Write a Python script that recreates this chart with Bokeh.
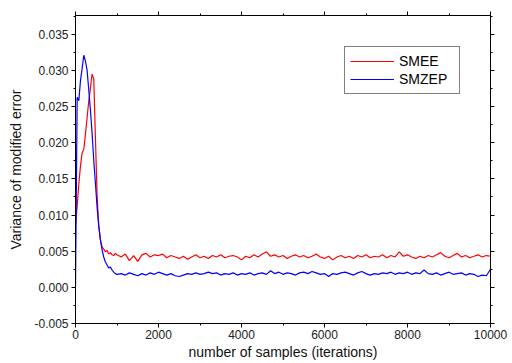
from bokeh.plotting import figure
from bokeh.models import (Range1d, LinearAxis, SingleIntervalTicker, NumeralTickFormatter,
                          Legend, LegendItem, ColumnDataSource, CustomJSTickFormatter)
from bokeh.embed import file_html
from bokeh.resources import INLINE

samples_early = [0, 40, 80, 120, 160, 200, 240, 280, 320, 360, 400, 440, 480, 520,
                 560, 600, 640, 680, 720, 760, 800, 840, 880, 920, 960, 1000]
smee_early = [0.0086, 0.0112, 0.0143, 0.0168, 0.0186, 0.0191, 0.0212, 0.0235, 0.0258,
              0.0276, 0.0295, 0.0288, 0.0207, 0.0128, 0.0085, 0.0066, 0.0056, 0.0053,
              0.0049, 0.0051, 0.0046, 0.0048, 0.0045, 0.0044, 0.0047, 0.0045]
smzep_early = [0.0000, 0.0263, 0.0258, 0.0286, 0.0303, 0.0321, 0.0313, 0.0300, 0.0273,
               0.0245, 0.0213, 0.0176, 0.0144, 0.0111, 0.0085, 0.0066, 0.0052, 0.0042,
               0.0035, 0.0031, 0.0027, 0.0028, 0.0024, 0.0021, 0.0019, 0.0018]

samples_late = list(range(1100, 10001, 100))
smee_late = [0.0042, 0.0046, 0.0037, 0.0044, 0.0036, 0.0045, 0.0047, 0.0042, 0.0045, 0.0044,
             0.0046, 0.0041, 0.0044, 0.0042, 0.0040, 0.0043, 0.0039, 0.0042, 0.0045, 0.0041,
             0.0043, 0.0040, 0.0044, 0.0042, 0.0045, 0.0041, 0.0043, 0.0044, 0.0042, 0.0038,
             0.0043, 0.0041, 0.0045, 0.0042, 0.0046, 0.0049, 0.0043, 0.0045, 0.0042, 0.0044,
             0.0040, 0.0043, 0.0045, 0.0042, 0.0044, 0.0041, 0.0043, 0.0046, 0.0042, 0.0040,
             0.0043, 0.0038, 0.0042, 0.0044, 0.0041, 0.0043, 0.0040, 0.0044, 0.0042, 0.0045,
             0.0041, 0.0043, 0.0042, 0.0045, 0.0041, 0.0044, 0.0042, 0.0049, 0.0043, 0.0045,
             0.0042, 0.0040, 0.0043, 0.0041, 0.0044, 0.0042, 0.0045, 0.0048, 0.0043, 0.0041,
             0.0044, 0.0047, 0.0042, 0.0044, 0.0041, 0.0043, 0.0045, 0.0042, 0.0044, 0.0043]
smzep_late = [0.0019, 0.0017, 0.0020, 0.0018, 0.0016, 0.0019, 0.0017, 0.0020, 0.0018, 0.0021,
              0.0019, 0.0017, 0.0019, 0.0016, 0.0015, 0.0017, 0.0019, 0.0018, 0.0020, 0.0018,
              0.0019, 0.0021, 0.0019, 0.0020, 0.0017, 0.0019, 0.0018, 0.0020, 0.0017, 0.0019,
              0.0018, 0.0020, 0.0017, 0.0019, 0.0020, 0.0018, 0.0023, 0.0019, 0.0021, 0.0018,
              0.0020, 0.0019, 0.0017, 0.0020, 0.0021, 0.0019, 0.0022, 0.0020, 0.0018, 0.0019,
              0.0015, 0.0019, 0.0018, 0.0020, 0.0021, 0.0019, 0.0017, 0.0020, 0.0022, 0.0019,
              0.0017, 0.0019, 0.0018, 0.0020, 0.0019, 0.0021, 0.0018, 0.0020, 0.0019, 0.0021,
              0.0018, 0.0020, 0.0019, 0.0024, 0.0019, 0.0018, 0.0020, 0.0017, 0.0019, 0.0021,
              0.0018, 0.0019, 0.0020, 0.0017, 0.0019, 0.0018, 0.0015, 0.0017, 0.0016, 0.0025]

samples = samples_early + samples_late
smee = smee_early + smee_late
smzep = smzep_early + smzep_late

series_names = ["SMEE", "SMZEP"]
x_label = "number of samples (iterations)"
y_label = "Variance of modified error"

FONT = "Liberation Sans"

p = figure(width=512, height=363, output_backend="svg", toolbar_location=None,
           x_range=Range1d(0, 10000), y_range=Range1d(-0.005, 0.0376),
           min_border_left=75, min_border_right=22, min_border_top=15, min_border_bottom=40,
           x_axis_location=None, y_axis_location=None)
p.grid.visible = False
p.outline_line_color = "black"
p.outline_line_width = 1
p.background_fill_color = "white"
p.border_fill_color = "white"

src = ColumnDataSource(dict(x=samples, smee=smee, smzep=smzep))
r1 = p.line("x", "smee", source=src, line_color="#ff0000", line_width=1.2)
r2 = p.line("x", "smzep", source=src, line_color="#0000ff", line_width=1.2)


def style(ax, labels=True):
    ax.axis_line_color = "black"
    ax.axis_line_width = 1
    ax.major_tick_line_color = "black"
    ax.minor_tick_line_color = "black"
    ax.major_tick_in = 0
    ax.major_tick_out = 4
    ax.minor_tick_in = 0
    ax.minor_tick_out = 2
    ax.major_label_text_font = FONT
    ax.major_label_text_color = "#222222"
    ax.axis_label_text_font = FONT
    ax.axis_label_text_font_style = "normal"
    ax.axis_label_text_color = "#111111"
    if not labels:
        ax.formatter = CustomJSTickFormatter(code="return '';")
        ax.major_label_standoff = 0


xt = SingleIntervalTicker(interval=2000, num_minor_ticks=2)
yt = SingleIntervalTicker(interval=0.005, num_minor_ticks=2)

xb = LinearAxis(ticker=xt, axis_label=x_label)
style(xb)
xb.major_label_text_font_size = "12px"
xb.major_label_standoff = 2
xb.axis_label_text_font_size = "14px"
xb.axis_label_standoff = 2
p.add_layout(xb, "below")

yl = LinearAxis(ticker=yt, axis_label=y_label, formatter=NumeralTickFormatter(format="0.000"))
style(yl)
yl.major_label_text_font_size = "12px"
yl.major_label_standoff = 3
yl.axis_label_text_font_size = "14px"
yl.axis_label_standoff = 7
p.add_layout(yl, "left")

xa = LinearAxis(ticker=SingleIntervalTicker(interval=2000, num_minor_ticks=2))
style(xa, labels=False)
p.add_layout(xa, "above")

yr = LinearAxis(ticker=SingleIntervalTicker(interval=0.005, num_minor_ticks=2))
style(yr, labels=False)
p.add_layout(yr, "right")

legend = Legend(items=[LegendItem(label=series_names[0], renderers=[r1]),
                       LegendItem(label=series_names[1], renderers=[r2])],
                location=(269, 229), orientation="vertical")
legend.label_text_font = FONT
legend.label_text_font_size = "14px"
legend.label_text_color = "black"
legend.glyph_width = 44
legend.glyph_height = 18
legend.label_height = 18
legend.label_width = 55
legend.label_standoff = 5
legend.padding = 5
legend.spacing = 0
legend.margin = 0
legend.border_line_color = "black"
legend.border_line_width = 1
legend.background_fill_alpha = 1
p.add_layout(legend, "center")

open("out.html", "w").write(file_html(p, INLINE))
